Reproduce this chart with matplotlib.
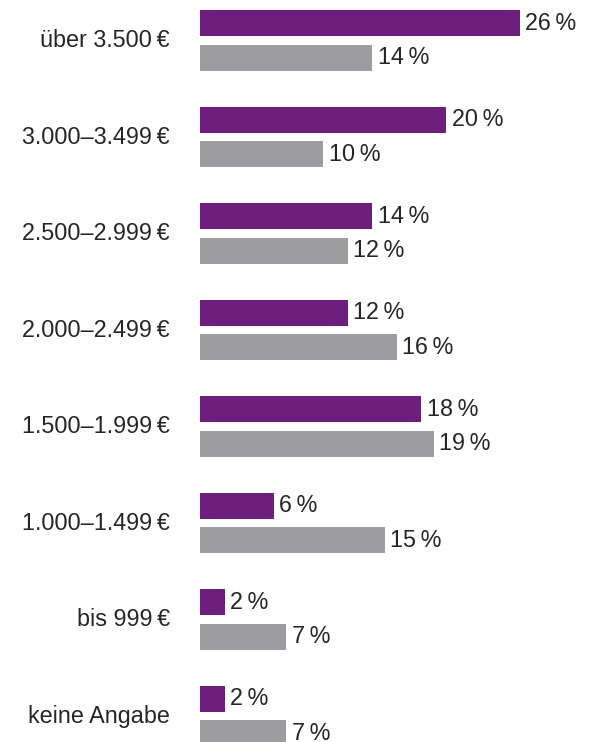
import numpy as np
import matplotlib.pyplot as plt

categories = ["über 3.500\u2009€", "3.000–3.499\u2009€", "2.500–2.999\u2009€",
              "2.000–2.499\u2009€", "1.500–1.999\u2009€", "1.000–1.499\u2009€",
              "bis 999\u2009€", "keine Angabe"]
purple_vals = [26, 20, 14, 12, 18, 6, 2, 2]
gray_vals = [14, 10, 12, 16, 19, 15, 7, 7]

purple = "#6c1f7d"
gray = "#9d9d9f"
txt = "#262626"
font = ["Liberation Sans", "DejaVu Sans"]
fs = 16.8

fig = plt.figure(figsize=(5.9, 7.42), dpi=100)
ax = fig.add_axes([200 / 590, 0, 369 / 590, 1])

y = np.arange(len(categories))
h = 0.27
off = 0.18
ax.barh(y - off, purple_vals, height=h, color=purple)
ax.barh(y + off, gray_vals, height=h, color=gray)

for yi, v in zip(y - off, purple_vals):
    ax.text(v + 0.45, yi, f"{v}\u2009%", va="center", ha="left", fontsize=fs, color=txt, family=font)
for yi, v in zip(y + off, gray_vals):
    ax.text(v + 0.45, yi, f"{v}\u2009%", va="center", ha="left", fontsize=fs, color=txt, family=font)
for yi, c in zip(y, categories):
    ax.text(-2.45, yi, c, va="center", ha="right", fontsize=fs, color=txt, family=font)

ax.set_xlim(0, 30)
ax.set_ylim((742 - 40.5) / 96.5, -40.5 / 96.5)
ax.axis("off")

fig.savefig("out.png", dpi=100)
